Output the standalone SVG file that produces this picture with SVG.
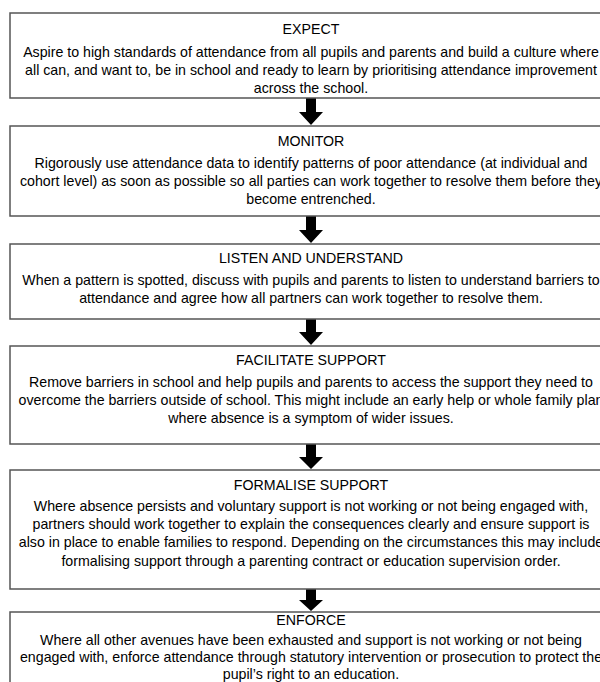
<svg xmlns="http://www.w3.org/2000/svg" width="600" height="682" viewBox="0 0 600 682">
<style>
.box{fill:#fff;stroke:#555;stroke-width:1.5}
.t{font-family:"Liberation Sans",Arial,sans-serif;font-size:14.2px;fill:#000;text-anchor:middle}
.arr{fill:#000}
</style>
<rect width="600" height="682" fill="#fff"/>
<g id="connectors">
<path class="arr" d="M306,98 H316 V112 H323 L311,125 L299,112 H306 Z"/>
<path class="arr" d="M306,216 H316 V230 H323 L311,243 L299,230 H306 Z"/>
<path class="arr" d="M306,319 H316 V332 H323 L311,345 L299,332 H306 Z"/>
<path class="arr" d="M306,444 H316 V457 H323 L311,469 L299,457 H306 Z"/>
<path class="arr" d="M306,589 H316 V600 H323 L311,611 L299,600 H306 Z"/>
</g>
<g id="expect">
<rect class="box" x="10" y="13" width="610" height="85"/>
<text class="t" x="311" y="34">EXPECT</text>
<text class="t" x="311" y="57">Aspire to high standards of attendance from all pupils and parents and build a culture where</text>
<text class="t" x="311" y="75">all can, and want to, be in school and ready to learn by prioritising attendance improvement</text>
<text class="t" x="311" y="93">across the school.</text>
</g>
<g id="monitor">
<rect class="box" x="10" y="126" width="610" height="90"/>
<text class="t" x="311" y="146">MONITOR</text>
<text class="t" x="311" y="168">Rigorously use attendance data to identify patterns of poor attendance (at individual and</text>
<text class="t" x="311" y="186">cohort level) as soon as possible so all parties can work together to resolve them before they</text>
<text class="t" x="311" y="204">become entrenched.</text>
</g>
<g id="listen">
<rect class="box" x="10" y="244" width="610" height="75"/>
<text class="t" x="311" y="263">LISTEN AND UNDERSTAND</text>
<text class="t" x="311" y="285">When a pattern is spotted, discuss with pupils and parents to listen to understand barriers to</text>
<text class="t" x="311" y="303">attendance and agree how all partners can work together to resolve them.</text>
</g>
<g id="facilitate">
<rect class="box" x="10" y="346" width="610" height="98"/>
<text class="t" x="311" y="365">FACILITATE SUPPORT</text>
<text class="t" x="311" y="387">Remove barriers in school and help pupils and parents to access the support they need to</text>
<text class="t" x="311" y="405">overcome the barriers outside of school. This might include an early help or whole family plan</text>
<text class="t" x="311" y="423">where absence is a symptom of wider issues.</text>
</g>
<g id="formalise">
<rect class="box" x="10" y="470" width="610" height="119"/>
<text class="t" x="311" y="490">FORMALISE SUPPORT</text>
<text class="t" x="311" y="511">Where absence persists and voluntary support is not working or not being engaged with,</text>
<text class="t" x="311" y="529">partners should work together to explain the consequences clearly and ensure support is</text>
<text class="t" x="311" y="547">also in place to enable families to respond. Depending on the circumstances this may include</text>
<text class="t" x="311" y="566">formalising support through a parenting contract or education supervision order.</text>
</g>
<g id="enforce">
<rect class="box" x="10" y="612" width="610" height="90"/>
<text class="t" x="311" y="625">ENFORCE</text>
<text class="t" x="311" y="645">Where all other avenues have been exhausted and support is not working or not being</text>
<text class="t" x="311" y="662">engaged with, enforce attendance through statutory intervention or prosecution to protect the</text>
<text class="t" x="311" y="679">pupil’s right to an education.</text>
</g>
</svg>
